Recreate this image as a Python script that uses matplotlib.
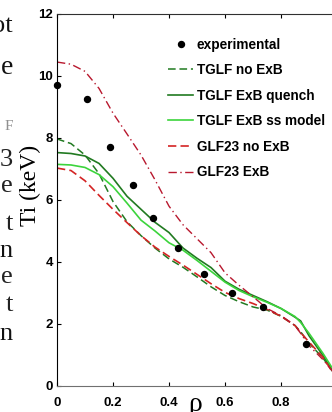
import numpy as np
import matplotlib.pyplot as plt

# experimental points
rho_exp = np.array([0.0, 0.106, 0.19, 0.273, 0.344, 0.431, 0.526, 0.624, 0.737, 0.888])
ti_exp = np.array([9.71, 9.26, 7.72, 6.47, 5.43, 4.46, 3.61, 2.99, 2.54, 1.35])

# model profiles
rho = np.array([0, 0.05, 0.1, 0.15, 0.2, 0.25, 0.3, 0.35, 0.4, 0.45, 0.5,
                0.55, 0.6, 0.65, 0.7, 0.75, 0.8, 0.85, 0.87, 0.9, 0.95, 0.98, 1.0])
ti_tglf_noexb = np.array([7.97, 7.82, 7.45, 6.85, 5.95, 5.3, 4.85, 4.45, 4.1, 3.83, 3.52,
                          3.2, 2.92, 2.72, 2.55, 2.45, 2.25, 1.95, 1.75, 1.38, 0.9, 0.52, 0.3])
ti_tglf_quench = np.array([7.53, 7.5, 7.42, 7.18, 6.7, 6.12, 5.7, 5.28, 4.95, 4.45, 4.12,
                           3.82, 3.38, 3.12, 2.92, 2.72, 2.5, 2.22, 2.1, 1.62, 0.98, 0.55, 0.3])
ti_tglf_ss = np.array([7.15, 7.13, 7.05, 6.82, 6.43, 5.9, 5.35, 5.0, 4.62, 4.38, 4.05,
                       3.7, 3.35, 3.08, 2.88, 2.7, 2.5, 2.24, 2.05, 1.7, 1.05, 0.62, 0.35])
ti_glf_noexb = np.array([7.03, 6.95, 6.62, 6.15, 5.7, 5.27, 4.85, 4.48, 4.18, 3.9, 3.6,
                         3.3, 3.02, 2.82, 2.66, 2.47, 2.25, 1.95, 1.72, 1.42, 0.92, 0.5, 0.3])
ti_glf_exb = np.array([10.45, 10.38, 10.15, 9.6, 8.8, 8.13, 7.45, 6.65, 5.8, 5.2, 4.75,
                       4.3, 3.65, 3.25, 2.88, 2.5, 2.27, 1.95, 1.7, 1.3, 0.85, 0.52, 0.3])

xticks = [0, 0.2, 0.4, 0.6, 0.8]
xticklabels = ['0', '0.2', '0.4', '0.6', '0.8']
yticks = [0, 2, 4, 6, 8, 10, 12]

W, H = 332, 412
fig = plt.figure(figsize=(W / 100, H / 100), dpi=100)
ax = fig.add_axes([57 / W, (H - 386) / H, (W - 57) / W, (386 - 14) / H])

dark_green = '#217a21'
light_green = '#3cd43c'
red = '#d42424'
dark_red = '#b8182e'

ax.plot(rho, ti_tglf_noexb, color=dark_green, lw=1.1, dashes=(5, 2.5), label='TGLF no ExB')
ax.plot(rho, ti_tglf_quench, color=dark_green, lw=1.2, label='TGLF ExB quench')
ax.plot(rho, ti_tglf_ss, color=light_green, lw=1.2, label='TGLF ExB ss model')
ax.plot(rho, ti_glf_noexb, color=red, lw=1.2, dashes=(5, 2.5), label='GLF23 no ExB')
ax.plot(rho, ti_glf_exb, color=dark_red, lw=1.0, dashes=(6, 2.5, 1, 2.5), label='GLF23 ExB')
ax.plot(rho_exp, ti_exp, 'o', color='black', ms=4.3, clip_on=False, zorder=5, label='experimental')

ax.set_xlim(0, 0.982)
ax.set_ylim(0, 12)
ax.set_xticks(xticks)
ax.set_xticklabels(xticklabels)
ax.set_yticks(yticks)
ax.tick_params(direction='in', length=3, top=True, right=False, width=0.8)
ax.tick_params(axis='x', pad=8)
ax.tick_params(axis='y', pad=3)
for lab in ax.get_xticklabels() + ax.get_yticklabels():
    lab.set_fontfamily('Liberation Sans')
    lab.set_fontweight('bold')
    lab.set_fontsize(9.5)
ax.spines['right'].set_visible(False)
ax.spines['bottom'].set_color('#707070')
ax.spines['top'].set_color('#303030')
ax.spines['left'].set_color('black')

handles, labels = ax.get_legend_handles_labels()
order = [5, 0, 1, 2, 3, 4]
ax.legend([handles[i] for i in order], [labels[i] for i in order],
          loc='upper left', bbox_to_anchor=(0.38, 0.955), frameon=False,
          borderpad=0, handlelength=1.8, handletextpad=0.3, labelspacing=0.85,
          prop={'family': 'Liberation Sans', 'weight': 'bold', 'size': 9.8})

serif = 'Liberation Serif'
fig.text(30 / W, 1 - 185 / H, 'Ti (keV)', rotation=90, ha='center', va='center',
         family=serif, fontsize=17)
fig.text(195 / W, 1 / H, 'ρ', ha='center', va='baseline', family=serif, fontsize=20)

# fragments of the neighbouring text column
frags = [('ot', 32, 19, '#111111'), ('e', 74, 20, '#111111'), ('F', 130, 11, '#909090'),
         ('3', 166, 19, '#222222'), ('e', 192, 19, '#222222'), ('t', 230, 19, '#222222'),
         ('n', 257, 19, '#111111'), ('e', 283, 19, '#222222'), ('t', 311, 19, '#222222'),
         ('n', 340, 19, '#111111')]
for s, yb, fs, c in frags:
    fig.text(13 / W, 1 - yb / H, s, ha='right', va='baseline', family=serif,
             fontsize=fs, color=c)

fig.savefig('out.png', dpi=100)
